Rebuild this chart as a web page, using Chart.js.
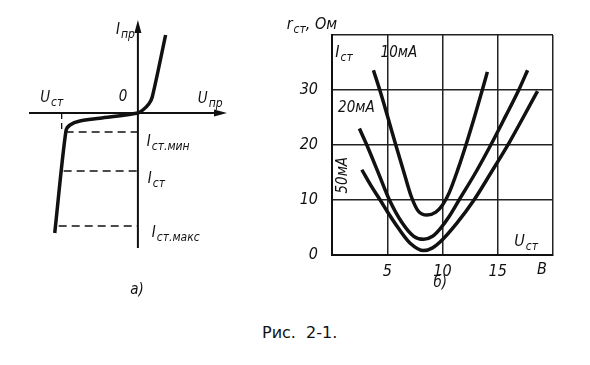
<!DOCTYPE html>
<html>
<head>
<meta charset="utf-8">
<script src="https://cdn.jsdelivr.net/npm/chart.js@4.4.0/dist/chart.umd.min.js"></script>
<style>
body{margin:0;background:#fff;width:590px;height:365px;position:relative;overflow:hidden}
#boxA{position:absolute;left:0;top:0;width:260px;height:300px}
#boxB{position:absolute;left:270px;top:0;width:320px;height:300px}
#caption{position:absolute;left:262px;top:323px;font:16px "DejaVu Sans";color:#111;word-spacing:5px;white-space:nowrap}
</style>
</head>
<body>
<div id="boxA"><canvas id="chartA"></canvas></div>
<div id="boxB"><canvas id="chartB"></canvas></div>
<div id="caption">Рис. 2-1.</div>
<script>
// а) вольт-амперная характеристика стабилитрона (условные единицы)
const fwdU = [0, 0.5, 1.1, 1.45, 2.8];
const fwdI = [0, 0.3, 0.9, 1.6, 7.8];
const revU = [0, -3.84, -5.86, -6.86, -7.27, -8.4];
const revI = [0, -0.53, -0.8, -1.2, -1.8, -12];
const levelSub = ['ст.мин', 'ст', 'ст.макс'];
const levelI = [-1.9, -5.8, -11.3];
const levelU = [-7.3, -7.5, -8.0];
const kneeU = -7.7;

// б) r_ст от U_ст при разных токах
const uTicks = [5, 10, 15];
const rTicks = [0, 10, 20, 30];
const u10 = [3.75, 4.4, 5.0, 5.8, 6.6, 7.2, 7.8, 8.6, 9.4, 10.0, 10.6, 11.4, 12.2, 13.0, 13.6, 14.06];
const r10 = [33.6, 29.5, 25.4, 19.8, 14.4, 10.5, 8.0, 7.27, 7.8, 9.1, 11.3, 15.6, 20.5, 25.8, 30, 33.3];
const u20 = [2.48, 3.15, 4.2, 5.2, 6.3, 7.4, 8.3, 9.1, 9.8, 10.6, 11.5, 13.0, 14.5, 15.7, 16.9, 17.7];
const r20 = [23, 20, 14.9, 10, 6.0, 3.4, 2.85, 3.4, 4.8, 7.0, 10, 15, 20.5, 25.2, 30, 33.6];
const u50 = [2.7, 3.5, 4.36, 5.0, 6.0, 7.1, 8.3, 9.1, 9.8, 11.3, 12.85, 14.4, 16.0, 17.3, 18.6];
const r50 = [15.5, 12.7, 10, 7.9, 4.9, 2.1, 0.8, 1.3, 2.4, 5.8, 10, 15, 20.3, 25, 29.8];

const FONT = '"DejaVu Sans Condensed", "DejaVu Sans", sans-serif';

function pts(xs, ys){ return xs.map((x, i) => ({x: x, y: ys[i]})); }

// текст с нижним индексом: I + ст
function subText(ctx, x, y, main, sub, align, size, tail){
	let f1 = 'italic ' + size + 'px ' + FONT;
	let f2 = 'italic ' + Math.round(size * 0.78) + 'px ' + FONT;
	ctx.font = f1; let w1 = ctx.measureText(main).width;
	ctx.font = f2; let w2 = sub ? ctx.measureText(sub).width + 1 : 0;
	ctx.font = f1; let w3 = tail ? ctx.measureText(tail).width : 0;
	let w = w1 + w2 + w3;
	let x0 = align == 'right' ? x - w : (align == 'center' ? x - w / 2 : x);
	ctx.textAlign = 'left';
	ctx.textBaseline = 'middle';
	ctx.fillStyle = '#111';
	ctx.font = f1; ctx.fillText(main, x0, y);
	if (sub){ ctx.font = f2; ctx.fillText(sub, x0 + w1 + 1, y + size * 0.3); }
	if (tail){ ctx.font = f1; ctx.fillText(tail, x0 + w1 + w2, y); }
}

function lineDs(data, width, dash, tension){
	return {data: data, showLine: true, borderColor: '#111', borderWidth: width,
		borderDash: dash || [], pointRadius: 0, tension: tension || 0, fill: false,
		borderCapStyle: 'butt', borderJoinStyle: 'round'};
}

// ---------- а) ----------
let curveA = pts(revU.slice().reverse(), revI.slice().reverse()).concat(pts(fwdU.slice(1), fwdI.slice(1)));
let dsA = [lineDs(curveA, 3.5, null, 0.3)];
levelI.forEach((v, i) => {
	dsA.push(lineDs([{x: levelU[i], y: v}, {x: 0, y: v}], 1.3, [8, 5]));
});
dsA.push(lineDs([{x: kneeU, y: 0}, {x: kneeU, y: levelI[0]}], 1.3, [6, 4]));

const axesA = {
	id: 'axesA',
	afterDraw(chart){
		let ctx = chart.ctx, a = chart.chartArea;
		let xs = chart.scales.x, ys = chart.scales.y;
		let x0 = xs.getPixelForValue(0), y0 = ys.getPixelForValue(0);
		ctx.save();
		ctx.strokeStyle = '#111'; ctx.fillStyle = '#111'; ctx.lineWidth = 2;
		ctx.beginPath();
		ctx.moveTo(a.left, y0); ctx.lineTo(a.right - 8, y0);
		ctx.moveTo(x0, a.bottom); ctx.lineTo(x0, a.top + 8);
		ctx.stroke();
		// стрелки
		ctx.beginPath();
		ctx.moveTo(a.right, y0); ctx.lineTo(a.right - 13, y0 - 3.5); ctx.lineTo(a.right - 13, y0 + 3.5); ctx.closePath();
		ctx.moveTo(x0, a.top); ctx.lineTo(x0 - 3.5, a.top + 13); ctx.lineTo(x0 + 3.5, a.top + 13); ctx.closePath();
		ctx.fill();
		let P = (u, i) => [xs.getPixelForValue(u), ys.getPixelForValue(i)];
		let p;
		p = P(-0.3, 8.3); subText(ctx, p[0], p[1], 'I', 'пр', 'right', 15);
		p = P(-8.7, 1.5); subText(ctx, p[0], p[1], 'U', 'ст', 'center', 15);
		p = P(-1.5, 1.6); subText(ctx, p[0], p[1], '0', '', 'center', 15);
		p = P(7.3, 1.4); subText(ctx, p[0], p[1], 'U', 'пр', 'center', 15);
		let lx = [0.9, 1.0, 1.4];
		let ly = [-2.9, -6.6, -12];
		levelSub.forEach((s, i) => {
			p = P(lx[i], ly[i]); subText(ctx, p[0], p[1], 'I', s, 'left', 15);
		});
		p = P(-0.1, -17.7); subText(ctx, p[0], p[1], 'а)', '', 'center', 15);
		ctx.restore();
	}
};

new Chart(document.getElementById('chartA'), {
	type: 'scatter',
	data: {datasets: dsA},
	options: {
		responsive: true, maintainAspectRatio: false, animation: false,
		layout: {padding: {left: 29, right: 33, top: 20, bottom: 52}},
		plugins: {legend: {display: false}, tooltip: {enabled: false}},
		scales: {
			x: {type: 'linear', min: -11, max: 9, display: false},
			y: {type: 'linear', min: -13.5, max: 9.3, display: false}
		}
	},
	plugins: [axesA]
});

// ---------- б) ----------
const labelsB = {
	id: 'labelsB',
	afterDraw(chart){
		let ctx = chart.ctx, a = chart.chartArea;
		let xs = chart.scales.x, ys = chart.scales.y;
		let P = (u, r) => [xs.getPixelForValue(u), ys.getPixelForValue(r)];
		ctx.save();
		let p;
		p = P(-4.1, 41.8); subText(ctx, p[0], p[1], 'r', 'ст', 'left', 16, ', Ом');
		p = P(0.3, 36.7); subText(ctx, p[0], p[1], 'I', 'ст', 'left', 16);
		p = P(4.4, 36.7); subText(ctx, p[0], p[1], '10мА', '', 'left', 15);
		p = P(0.55, 26.7); subText(ctx, p[0], p[1], '20мА', '', 'left', 15);
		p = P(16.5, 2.4); subText(ctx, p[0], p[1], 'U', 'ст', 'left', 16);
		p = P(19, 0); subText(ctx, p[0], a.bottom + 15, 'B', '', 'center', 16);
		p = P(9.8, -5.1); subText(ctx, p[0], p[1], 'б)', '', 'center', 15);
		p = P(1.0, 14.5);
		ctx.translate(p[0], p[1]); ctx.rotate(-Math.PI / 2);
		subText(ctx, 0, 0, '50мА', '', 'center', 15);
		ctx.restore();
	}
};

const tickFont = {family: FONT, size: 16, style: 'italic'};

new Chart(document.getElementById('chartB'), {
	type: 'scatter',
	data: {datasets: [
		Object.assign(lineDs(pts(u10, r10), 3.5), {cubicInterpolationMode: 'monotone'}),
		Object.assign(lineDs(pts(u20, r20), 3.5), {cubicInterpolationMode: 'monotone'}),
		Object.assign(lineDs(pts(u50, r50), 3.5), {cubicInterpolationMode: 'monotone'})
	]},
	options: {
		responsive: true, maintainAspectRatio: false, animation: false,
		layout: {padding: {left: 22, right: 37, top: 35, bottom: 15}},
		plugins: {legend: {display: false}, tooltip: {enabled: false}},
		scales: {
			x: {
				type: 'linear', min: 0, max: 20,
				ticks: {stepSize: 5, padding: 7, color: '#111', font: tickFont, maxRotation: 0,
					callback: v => uTicks.includes(v) ? v : ''},
				grid: {color: '#222', lineWidth: 1.5, drawTicks: false},
				border: {color: '#111', width: 2},
				afterFit: s => { s.height = 30; }
			},
			y: {
				type: 'linear', min: 0, max: 40,
				ticks: {stepSize: 10, padding: 14, color: '#111', font: tickFont,
					callback: v => rTicks.includes(v) ? v : ''},
				grid: {color: '#222', lineWidth: 1.5, drawTicks: false},
				border: {color: '#111', width: 2},
				afterFit: s => { s.width = 40; }
			}
		}
	},
	plugins: [labelsB]
});
</script>
</body>
</html>
